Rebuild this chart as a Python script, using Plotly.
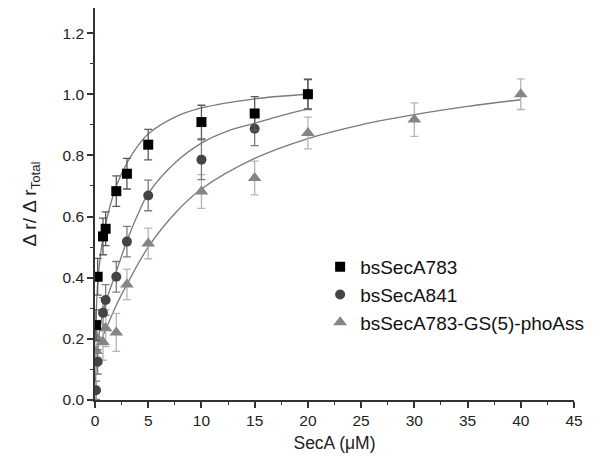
import plotly.graph_objects as go

# ---- data ----
sq_x = [0.1, 0.25, 0.75, 1, 2, 3, 5, 10, 15, 20]
sq_y = [0.245, 0.403, 0.535, 0.56, 0.683, 0.74, 0.835, 0.909, 0.937, 1.0]
sq_err = [0.05, 0.06, 0.06, 0.055, 0.05, 0.05, 0.05, 0.055, 0.055, 0.048]

ci_x = [0.1, 0.25, 0.75, 1, 2, 3, 5, 10, 15, 20]
ci_y = [0.032, 0.125, 0.285, 0.327, 0.403, 0.518, 0.669, 0.786, 0.887, 1.0]
ci_err = [0.03, 0.04, 0.05, 0.05, 0.05, 0.05, 0.05, 0.065, 0.055, 0.05]

tr_x = [0.1, 0.25, 0.75, 1, 2, 3, 5, 10, 15, 20, 30, 40]
tr_y = [0.16, 0.2, 0.19, 0.235, 0.221, 0.378, 0.512, 0.682, 0.726, 0.873, 0.917, 1.0]
tr_err = [0.05, 0.06, 0.06, 0.06, 0.062, 0.05, 0.05, 0.055, 0.055, 0.052, 0.055, 0.05]

# fitted curves, points
sq_fit_x = [0.05, 0.1, 0.25, 0.5, 0.75, 1, 1.5, 2, 3, 4, 5, 7.5, 10, 15, 20]
sq_fit_y = [0.2, 0.27, 0.38, 0.47, 0.53, 0.575, 0.645, 0.70, 0.775, 0.83, 0.87, 0.925, 0.955, 0.985, 1.0]

ci_fit_x = [0.05, 0.1, 0.25, 0.5, 0.75, 1, 2, 3, 4, 5, 7.5, 10, 12.5, 15, 17.5, 20]
ci_fit_y = [0.06, 0.1, 0.18, 0.24, 0.29, 0.32, 0.42, 0.52, 0.605, 0.675, 0.775, 0.84, 0.88, 0.905, 0.93, 0.952]

tr_fit_x = [0.05, 0.1, 0.5, 1, 2, 3, 5, 7.5, 10, 15, 20, 25, 30, 35, 40]
tr_fit_y = [0.13, 0.15, 0.19, 0.23, 0.31, 0.378, 0.5, 0.61, 0.69, 0.79, 0.855, 0.9, 0.933, 0.96, 0.982]

names = ["bsSecA783", "bsSecA841", "bsSecA783-GS(5)-phoAss"]

fig = go.Figure()

line_style = dict(color="#7a7a7a", width=1.3, shape="spline")

for fx, fy in [(tr_fit_x, tr_fit_y), (ci_fit_x, ci_fit_y), (sq_fit_x, sq_fit_y)]:
    fig.add_trace(go.Scatter(x=fx, y=fy, mode="lines", line=line_style,
                             showlegend=False, hoverinfo="skip"))

fig.add_trace(go.Scatter(
    x=tr_x, y=tr_y, mode="markers", name=names[2], legendrank=3,
    marker=dict(symbol="triangle-up", size=12, color="#858585"),
    error_y=dict(type="data", array=tr_err, color="#b5b5b5", thickness=1.3, width=4)))
fig.add_trace(go.Scatter(
    x=ci_x, y=ci_y, mode="markers", name=names[1], legendrank=2,
    marker=dict(symbol="circle", size=10, color="#444444"),
    error_y=dict(type="data", array=ci_err, color="#7d7d7d", thickness=1.3, width=4)))
fig.add_trace(go.Scatter(
    x=sq_x, y=sq_y, mode="markers", name=names[0], legendrank=1,
    marker=dict(symbol="square", size=10, color="#000000"),
    error_y=dict(type="data", array=sq_err, color="#5a5a5a", thickness=1.3, width=4)))

tick_font = dict(family="Liberation Sans, Arial", size=15.5, color="#222222")

fig.update_layout(
    width=600, height=467,
    margin=dict(l=87, r=34, t=0, b=75),
    plot_bgcolor="white", paper_bgcolor="white",
    font=tick_font,
    legend=dict(x=0.47, y=0.388, xanchor="left", yanchor="top", traceorder="normal",
                font=dict(family="Liberation Sans, Arial", size=19, color="#111111"),
                bgcolor="rgba(0,0,0,0)"),
    xaxis=dict(range=[0, 45], dtick=5, tick0=0, showgrid=False, zeroline=False,
               showline=True, linecolor="#333333", linewidth=1.5,
               ticks="outside", ticklen=6, tickwidth=1.5, tickcolor="#333333",
               minor=dict(dtick=2.5, ticks="outside", ticklen=3, tickwidth=1.2, tickcolor="#333333"),
               title=dict(text="SecA (μM)", font=dict(size=17.5), standoff=8),
               tickfont=tick_font),
    yaxis=dict(range=[0, 1.282], dtick=0.2, tick0=0, showgrid=False, zeroline=False,
               showline=True, linecolor="#333333", linewidth=1.5,
               ticks="outside", ticklen=6, tickwidth=1.5, tickcolor="#333333",
               tickformat=".1f",
               minor=dict(dtick=0.1, ticks="outside", ticklen=3, tickwidth=1.2, tickcolor="#333333"),
               title=dict(text="Δ r/ Δ r<sub>Total</sub>", font=dict(size=19), standoff=21),
               tickfont=tick_font),
)

fig.write_html("out.html")
